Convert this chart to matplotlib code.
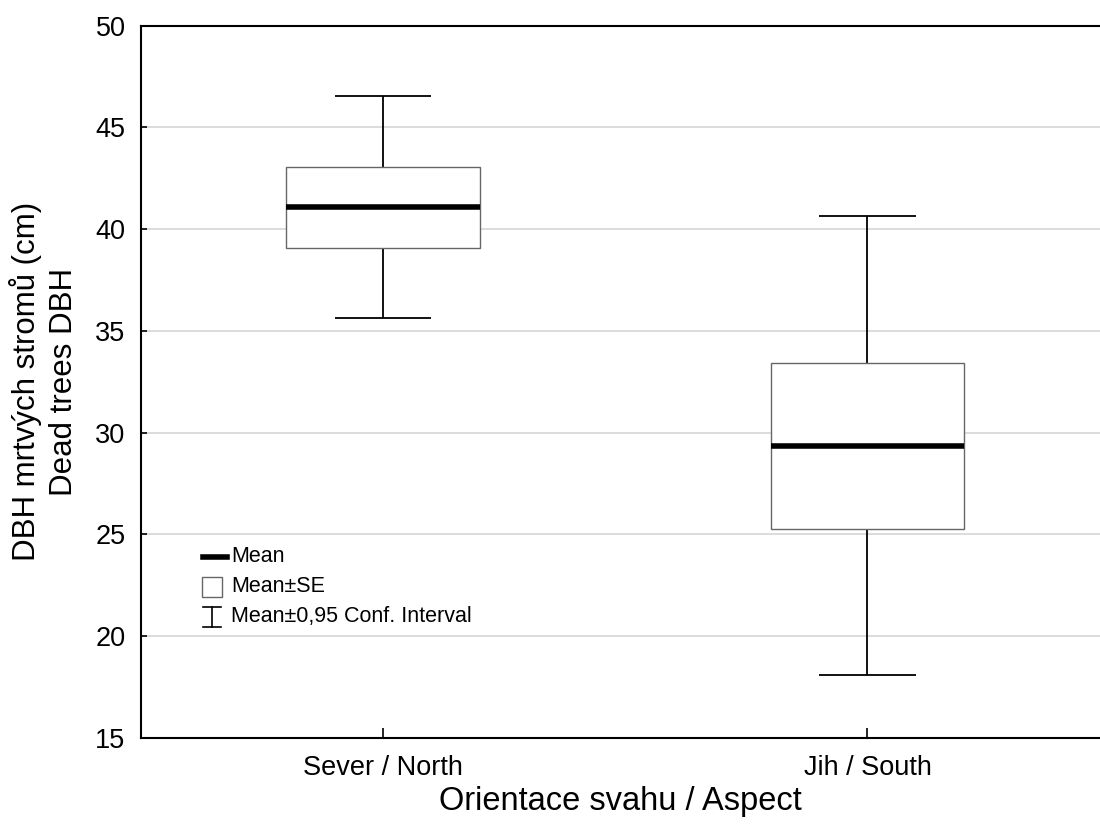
import matplotlib.pyplot as plt

plt.rcParams['font.family'] = ['Liberation Sans', 'DejaVu Sans']

# %% data
groups = ['Sever / North', 'Jih / South']
means = [41.1, 29.35]
se_lo = [39.1, 25.27]
se_hi = [43.05, 33.41]
ci_lo = [35.65, 18.1]
ci_hi = [46.57, 40.66]
yticks = [15, 20, 25, 30, 35, 40, 45, 50]

# %% plot
fig = plt.figure(figsize=(11, 8.3), dpi=100)
ax = fig.add_axes([0.128, 0.111, 0.872, 0.858])

xs = list(range(len(groups)))
box_w = 0.4
cap_w = 0.2

for y in yticks[1:-1]:
    ax.axhline(y, color='#d9d9d9', lw=1.3, zorder=0)

for x, lo, hi, clo, chi, m in zip(xs, se_lo, se_hi, ci_lo, ci_hi, means):
    ax.vlines(x, clo, lo, color='black', lw=1.3, zorder=2)
    ax.vlines(x, hi, chi, color='black', lw=1.3, zorder=2)
    ax.hlines([clo, chi], x - cap_w / 2, x + cap_w / 2, color='black', lw=1.3, zorder=2)
    ax.bar(x, hi - lo, bottom=lo, width=box_w, facecolor='white',
           edgecolor='#666666', lw=1.0, zorder=3)
    ax.hlines(m, x - box_w / 2, x + box_w / 2, color='black', lw=4, zorder=4)

ax.set_xlim(-0.5, 1.48)
ax.set_ylim(15, 50)
ax.set_xticks(xs)
ax.set_xticklabels(groups)
ax.set_yticks(yticks)
ax.tick_params(axis='y', direction='in', length=4, width=1.2, labelsize=19.5, pad=11)
ax.tick_params(axis='x', direction='in', length=7, width=1.2, labelsize=19.5, pad=12)
for s in ['left', 'bottom', 'top']:
    ax.spines[s].set_linewidth(1.5)
ax.spines['right'].set_visible(False)

ax.set_xlabel('Orientace svahu / Aspect', fontsize=23.5, labelpad=4)
ax.set_ylabel('DBH mrtvých stromů (cm)\nDead trees DBH', fontsize=22.5,
              labelpad=12, linespacing=1.3)

# legend drawn by hand, axes fraction coordinates
tr = ax.transAxes
def fx(px):
    return (px - 141) / (1100 - 141)
def fy(py):
    return (738 - py) / (738 - 26)
ax.plot([fx(203), fx(227)], [fy(557), fy(557)], color='black', lw=4, transform=tr, clip_on=False)
ax.add_patch(plt.Rectangle((fx(202), fy(597)), fx(222) - fx(202), fy(577) - fy(597),
                           transform=tr, facecolor='white', edgecolor='#666666', lw=1))
ax.plot([fx(212), fx(212)], [fy(607), fy(627)], color='black', lw=1.2, transform=tr)
ax.plot([fx(203), fx(221)], [fy(607), fy(607)], color='black', lw=1.2, transform=tr)
ax.plot([fx(203), fx(221)], [fy(627), fy(627)], color='black', lw=1.2, transform=tr)
for py, txt in zip([557, 587, 617], ['Mean', 'Mean±SE', 'Mean±0,95 Conf. Interval']):
    ax.text(fx(231), fy(py), txt, transform=tr, fontsize=15.5, va='center', ha='left')

fig.savefig('out.png', dpi=100)
